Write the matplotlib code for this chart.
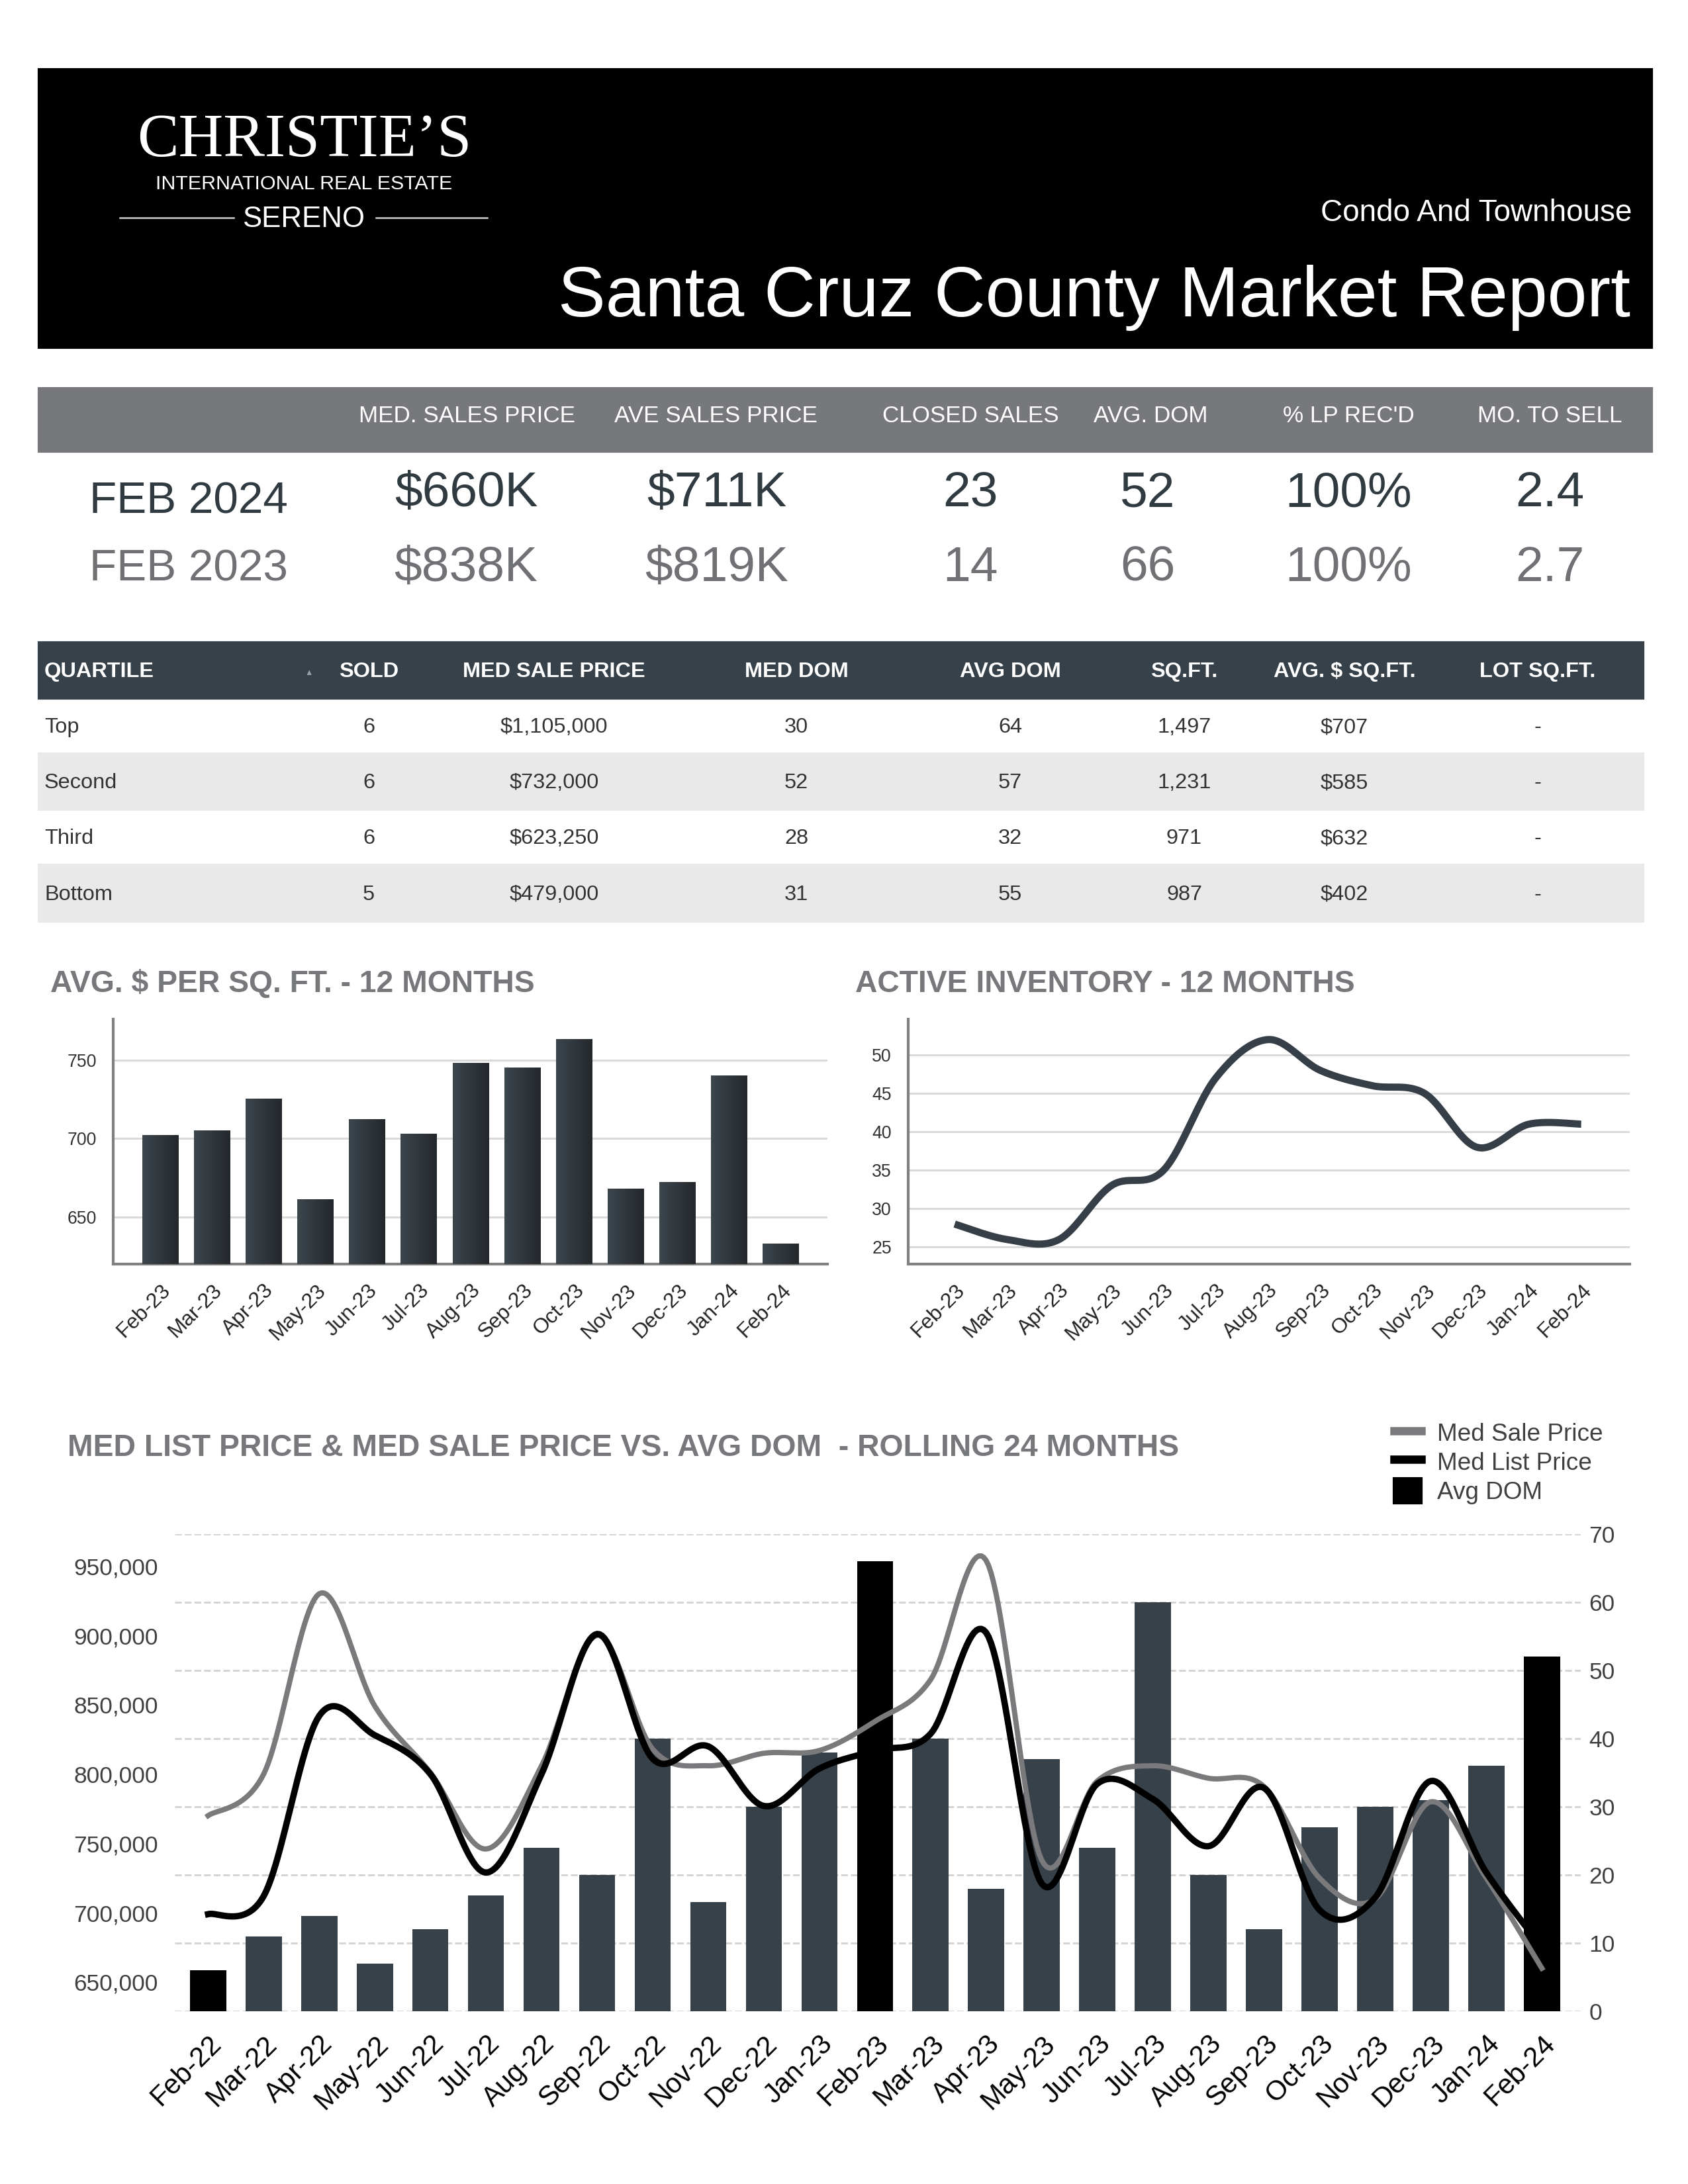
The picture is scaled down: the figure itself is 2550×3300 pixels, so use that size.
"""
Santa Cruz County condo/townhouse market report page, rebuilt with matplotlib.
"""

import matplotlib
matplotlib.use("Agg")
import matplotlib.pyplot as plt
import numpy as np
from matplotlib.patches import Rectangle
from matplotlib.lines import Line2D
from matplotlib.ticker import FuncFormatter

plt.rcParams["font.family"] = ["Liberation Sans", "DejaVu Sans"]

# ── Data ──────────────────────────────────────────────────────────────────────

summary_cols = ["MED. SALES PRICE", "AVE SALES PRICE", "CLOSED SALES",
                "AVG. DOM", "% LP REC'D", "MO. TO SELL"]
summary_labels = ["FEB 2024", "FEB 2023"]
summary_2024 = ["$660K", "$711K", "23", "52", "100%", "2.4"]
summary_2023 = ["$838K", "$819K", "14", "66", "100%", "2.7"]

quartile_cols = ["QUARTILE", "SOLD", "MED SALE PRICE", "MED DOM", "AVG DOM",
                 "SQ.FT.", "AVG. $ SQ.FT.", "LOT SQ.FT."]
quartile_names = ["Top", "Second", "Third", "Bottom"]
q_sold = ["6", "6", "6", "5"]
q_med_price = ["$1,105,000", "$732,000", "$623,250", "$479,000"]
q_med_dom = ["30", "52", "28", "31"]
q_avg_dom = ["64", "57", "32", "55"]
q_sqft = ["1,497", "1,231", "971", "987"]
q_ppsf = ["$707", "$585", "$632", "$402"]
q_lot = ["-", "-", "-", "-"]

months_12 = ["Feb-23", "Mar-23", "Apr-23", "May-23", "Jun-23", "Jul-23", "Aug-23",
             "Sep-23", "Oct-23", "Nov-23", "Dec-23", "Jan-24", "Feb-24"]
ppsf_12 = [702, 705, 725, 661, 712, 703, 748, 745, 763, 668, 672, 740, 633]
inventory_12 = [28, 26, 26, 33, 35, 47, 52, 48, 46, 45, 38, 41, 41]

months_24 = ["Feb-22", "Mar-22", "Apr-22", "May-22", "Jun-22", "Jul-22", "Aug-22",
             "Sep-22", "Oct-22", "Nov-22", "Dec-22", "Jan-23", "Feb-23", "Mar-23",
             "Apr-23", "May-23", "Jun-23", "Jul-23", "Aug-23", "Sep-23", "Oct-23",
             "Nov-23", "Dec-23", "Jan-24", "Feb-24"]
avg_dom_24 = [6, 11, 14, 7, 12, 17, 24, 20, 40, 16, 30, 38, 66, 40, 18, 37, 24,
              60, 20, 12, 27, 30, 31, 36, 52]
med_sale_24 = [770000, 800000, 930000, 849000, 801000, 746000, 806000, 900000,
               818000, 806000, 815000, 817000, 838000, 868000, 954000, 738000,
               795000, 806000, 797000, 791000, 725000, 710000, 780000, 725000,
               660000]
med_list_24 = [699000, 712000, 842000, 828000, 800000, 729000, 800000, 901000,
               811000, 820000, 777000, 804000, 817000, 829000, 902000, 721000,
               793000, 782000, 748000, 790000, 702000, 711000, 795000, 729000,
               675000]

# ── Style ─────────────────────────────────────────────────────────────────────

W, H = 2550, 3300
SLATE = "#37414a"
GREY_TXT = "#77787b"
ROW_GREY = "#e9e9ea"
GRID = "#d9d9d9"
SPINE = "#808080"


def fx(x):
    return x / W


def fy(y):
    return 1 - y / H


def axes_px(fig, x0, y0, x1, y1):
    return fig.add_axes([x0 / W, 1 - y1 / H, (x1 - x0) / W, (y1 - y0) / H])


def rect_px(fig, x0, y0, x1, y1, color):
    fig.patches.append(Rectangle((fx(x0), fy(y1)), (x1 - x0) / W, (y1 - y0) / H,
                                 transform=fig.transFigure, color=color, zorder=0))


def txt(fig, x, y, s, **kw):
    kw.setdefault("va", "baseline")
    fig.text(fx(x), fy(y), s, **kw)


def smooth(xs, ys, n=24):
    """Excel-style smoothed line (Catmull-Rom as cubic Bezier)."""
    p = np.column_stack([xs, ys]).astype(float)
    p = np.vstack([p[0], p, p[-1]])
    out = []
    t = np.linspace(0, 1, n)[:, None]
    for i in range(1, len(p) - 2):
        p0, p1, p2, p3 = p[i - 1], p[i], p[i + 1], p[i + 2]
        c1 = p1 + (p2 - p0) / 6.0
        c2 = p2 - (p3 - p1) / 6.0
        seg = ((1 - t) ** 3) * p1 + 3 * ((1 - t) ** 2) * t * c1 \
            + 3 * (1 - t) * t ** 2 * c2 + t ** 3 * p2
        out.append(seg if i == 1 else seg[1:])
    out = np.vstack(out)
    return out[:, 0], out[:, 1]


def small_chart_axes(ax, xlim, ylim, yticks, labels):
    ax.set_xlim(*xlim)
    ax.set_ylim(*ylim)
    ax.set_yticks(yticks)
    ax.set_xticks(range(len(labels)))
    ax.set_xticklabels(labels, rotation=45, ha="right", rotation_mode="anchor",
                       fontsize=7.6, color="#222222")
    ax.tick_params(axis="y", length=0, pad=6, labelsize=6.4, labelcolor="#333333")
    ax.tick_params(axis="x", length=0, pad=6)
    ax.grid(True, axis="y", color=GRID, linewidth=0.7)
    ax.set_axisbelow(True)
    for side in ("top", "right"):
        ax.spines[side].set_visible(False)
    for side in ("left", "bottom"):
        ax.spines[side].set_color(SPINE)
        ax.spines[side].set_linewidth(1.0)


fig = plt.figure(figsize=(8.5, 11), dpi=300)
fig.patch.set_facecolor("white")

# ── Header block ──────────────────────────────────────────────────────────────

rect_px(fig, 59, 105, 2495, 525, "black")
txt(fig, 460, 236, "CHRISTIE\u2019S", ha="center", color="white", fontsize=22.5,
    family=["Liberation Serif", "DejaVu Serif"])
txt(fig, 459, 286, "INTERNATIONAL REAL ESTATE", ha="center", color="white", fontsize=7.3)
txt(fig, 459, 343, "SERENO", ha="center", color="white", fontsize=10.5)
for x0, x1 in ((181, 353), (568, 736)):
    fig.lines.append(Line2D([fx(x0), fx(x1)], [fy(329), fy(329)], transform=fig.transFigure,
                            color="#d0d0d0", linewidth=0.6))
txt(fig, 2465, 334, "Condo And Townhouse", ha="right", color="white", fontsize=11)
txt(fig, 2463, 478, "Santa Cruz County Market Report", ha="right", color="white", fontsize=25.8)

# ── Summary table ─────────────────────────────────────────────────────────────

rect_px(fig, 59, 587, 2495, 682, GREY_TXT)
col_x = [706, 1081, 1466, 1738, 2037, 2341]
val_x = [704, 1083, 1466, 1734, 2037, 2341]
for x, s in zip(col_x, summary_cols):
    txt(fig, x, 638, s, ha="center", color="white", fontsize=8.4)
txt(fig, 285, 775, summary_labels[0], ha="center", color="#2f3a41", fontsize=16.2)
txt(fig, 285, 877, summary_labels[1], ha="center", color="#707174", fontsize=16.2)
for x, s in zip(val_x, summary_2024):
    txt(fig, x, 765, s, ha="center", color="#2f3a41", fontsize=18)
for x, s in zip(val_x, summary_2023):
    txt(fig, x, 878, s, ha="center", color="#707174", fontsize=18)

# ── Quartile table ────────────────────────────────────────────────────────────

rect_px(fig, 59, 971, 2482, 1055, SLATE)
rect_px(fig, 59, 1139, 2482, 1223, ROW_GREY)
rect_px(fig, 59, 1307, 2482, 1392, ROW_GREY)
q_x = [557, 837, 1203, 1526, 1789, 2031, 2323]
txt(fig, 67, 1023, quartile_cols[0], ha="left", color="white", fontsize=7.8, weight="bold")
txt(fig, 467, 1020, "\u25b2", ha="center", color="#9aa0a5", fontsize=3)
for x, s in zip(q_x, quartile_cols[1:]):
    txt(fig, x, 1023, s, ha="center", color="white", fontsize=7.8, weight="bold")
row_y = [1107, 1191, 1275, 1360]
columns = [q_sold, q_med_price, q_med_dom, q_avg_dom, q_sqft, q_ppsf, q_lot]
for r, y in enumerate(row_y):
    txt(fig, 67, y, quartile_names[r], ha="left", color="#333333", fontsize=7.8)
    for x, col in zip(q_x, columns):
        txt(fig, x, y, col[r], ha="center", color="#333333", fontsize=7.8)

# ── AVG. $ PER SQ. FT. - 12 MONTHS ───────────────────────────────────────────

txt(fig, 76, 1499, "AVG. $ PER SQ. FT. - 12 MONTHS", ha="left", color=GREY_TXT,
    fontsize=11.1, weight="bold")
ax1 = axes_px(fig, 171, 1540, 1250, 1910)
x12 = np.arange(len(months_12))
bars = ax1.bar(x12, ppsf_12, width=0.7, color="#2f363c", zorder=2)
grad = np.linspace(0, 1, 64)[None, :]
cmap = matplotlib.colors.LinearSegmentedColormap.from_list("barg", ["#3c464d", "#24282c"])
for b in bars:
    ax1.imshow(grad, extent=[b.get_x(), b.get_x() + b.get_width(), 0, b.get_height()],
               aspect="auto", cmap=cmap, zorder=3)
small_chart_axes(ax1, (-0.91, 12.9), (620, 776), [650, 700, 750], months_12)

# ── ACTIVE INVENTORY - 12 MONTHS ─────────────────────────────────────────────

txt(fig, 1292, 1499, "ACTIVE INVENTORY - 12 MONTHS", ha="left", color=GREY_TXT,
    fontsize=11.1, weight="bold")
ax2 = axes_px(fig, 1372, 1540, 2462, 1910)
sx, sy = smooth(x12, inventory_12)
ax2.plot(sx, sy, color="#363f47", linewidth=2.6, solid_capstyle="butt", zorder=3)
small_chart_axes(ax2, (-0.89, 12.93), (22.8, 54.65), [25, 30, 35, 40, 45, 50], months_12)

# ── MED LIST PRICE & MED SALE PRICE VS. AVG DOM ──────────────────────────────

txt(fig, 102, 2200, "MED LIST PRICE & MED SALE PRICE VS. AVG DOM  - ROLLING 24 MONTHS",
    ha="left", color=GREY_TXT, fontsize=11.1, weight="bold")

axd = axes_px(fig, 264, 2318, 2388, 3039)
x24 = np.arange(len(months_24))
bar_colors = ["black" if m.startswith("Feb") else SLATE for m in months_24]
axd.bar(x24, avg_dom_24, width=0.65, color=bar_colors, zorder=2)
axd.set_xlim(-0.6, 24.7)
axd.set_ylim(0, 70)
axd.set_yticks(range(0, 71, 10))
axd.grid(True, axis="y", color="#d4d4d4", linewidth=0.7, linestyle=(0, (3.5, 1.5)))
axd.set_axisbelow(True)
axd.set_xticks(x24)
axd.set_xticklabels(months_24, rotation=45, ha="right", rotation_mode="anchor",
                    fontsize=10, color="black")
axd.tick_params(axis="x", length=0, pad=7)
for s in axd.spines.values():
    s.set_visible(False)

axp = axd.twinx()
# twinx moves the host ticks to the left, so set the sides afterwards
axd.yaxis.tick_right()
axd.tick_params(axis="y", length=0, pad=3, labelsize=8.5, labelcolor="#404040")
axp.yaxis.tick_left()
axp.set_ylim(629000, 973000)
axp.set_yticks(range(650000, 950001, 50000))
axp.yaxis.set_major_formatter(FuncFormatter(lambda v, _: f"{int(v):,}"))
axp.tick_params(axis="y", length=0, pad=6, labelsize=8.5, labelcolor="#404040")
for s in axp.spines.values():
    s.set_visible(False)
gx, gy = smooth(x24, med_sale_24)
lx, ly = smooth(x24, med_list_24)
axp.plot(gx, gy, color="#7a7a7d", linewidth=1.9, zorder=3)
axp.plot(lx, ly, color="black", linewidth=2.3, zorder=4)
axp.set_xlim(-0.6, 24.7)

handles = [Line2D([], [], color="#7a7a7d", linewidth=3),
           Line2D([], [], color="black", linewidth=3),
           Rectangle((0, 0), 1, 1, color="black")]
fig.legend(handles, ["Med Sale Price", "Med List Price", "Avg DOM"],
           loc="upper left", bbox_to_anchor=(fx(2106), fy(2146)), frameon=False,
           fontsize=8.85, labelcolor="#404040", handlelength=1.1, handleheight=1.2,
           handletextpad=0.65, labelspacing=0.12, borderpad=0, borderaxespad=0)

fig.savefig("out.png", dpi=300, facecolor="white")
plt.close(fig)
